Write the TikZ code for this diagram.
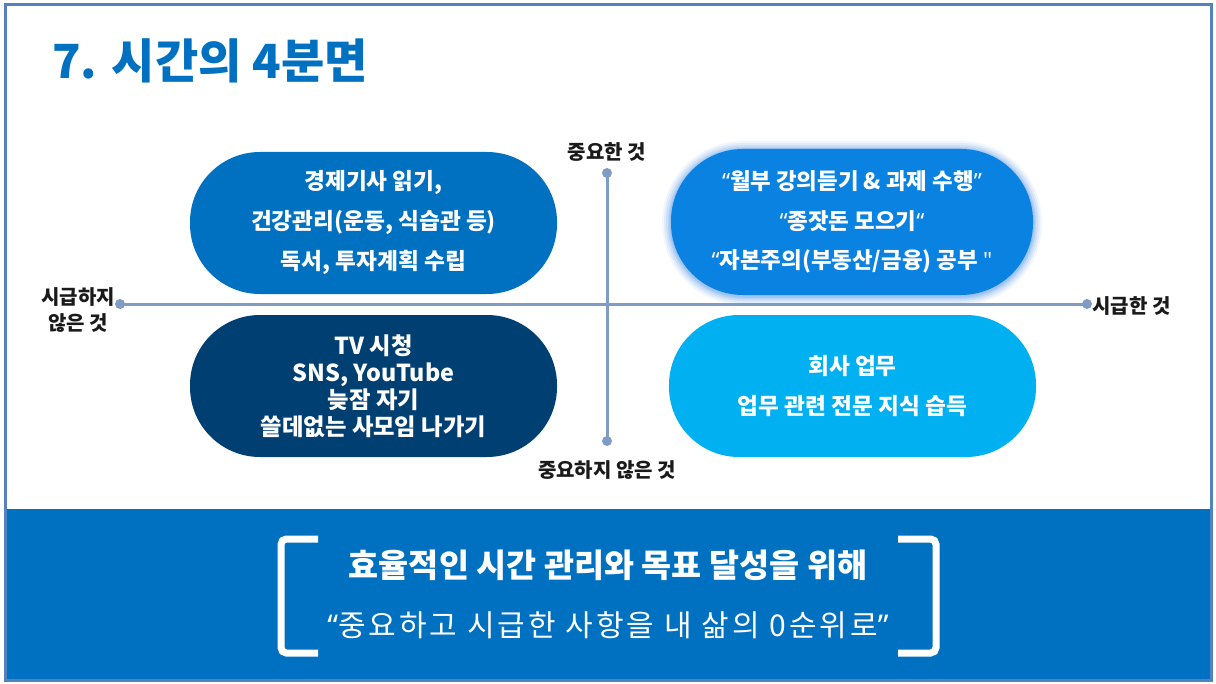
\documentclass[tikz,border=0pt]{standalone}
\usepackage{fontspec}
\setmainfont{Noto Sans CJK KR}
\newfontfamily\handfont[LetterSpace=10]{Noto Sans CJK KR}
\newfontfamily\quotefont{Noto Sans}
\newcommand\myqo{{\quotefont “}}
\newcommand\myqc{{\quotefont ”}}
\definecolor{mainblue}{RGB}{0,112,192}
\definecolor{framecol}{RGB}{84,130,190}
\definecolor{navy}{RGB}{0,63,114}
\definecolor{brightblue}{RGB}{10,130,226}
\definecolor{skyblue}{RGB}{0,176,240}
\definecolor{axiscol}{RGB}{127,156,196}
\definecolor{glowcol}{RGB}{130,178,238}
\definecolor{labelcol}{RGB}{26,26,26}
\begin{document}
\begin{tikzpicture}[x=0.75pt,y=-0.75pt,
  pill/.style={rectangle, rounded corners=52.5pt, minimum width=275.25pt, minimum height=106.5pt, inner sep=0pt, text=white, align=center, font=\bfseries\fontsize{17}{30}\selectfont},
  axisline/.style={draw=axiscol, line width=2.25pt},
  axisdot/.style={circle, fill=axiscol, inner sep=0pt, minimum size=7.5pt},
  axislabel/.style={text=labelcol, font=\bfseries\fontsize{15}{19.5}\selectfont, align=center, inner sep=0pt},
  bracketline/.style={draw=white, line width=5.25pt, rounded corners=4pt},
]
\useasboundingbox (0,0) rectangle (1216,684);
\fill[white] (0,0) rectangle (1216,684);
\fill[mainblue] (5,509) rectangle (1211,680);
\draw[framecol, line width=2.25pt] (5,5) rectangle (1211,680);

\node[anchor=base west, text=mainblue, font=\bfseries\fontsize{35.3}{40}\selectfont, inner sep=0pt] (title) at (52,79) {7. 시간의 4분면};

\foreach \w/\o in {18/0.10, 14/0.15, 10/0.22, 6/0.3, 3/0.4}
  \draw[glowcol, opacity=\o, line width=\w*0.75pt, rounded corners=54pt] (671,150) rectangle (1033,296);

\node[pill, fill=mainblue] (impnotu) at (373.5,223) {경제기사 읽기,\\건강관리(운동, 식습관 등)\\독서, 투자계획 수립};
\node[pill, fill=navy, font=\bfseries\fontsize{17.5}{20.25}\selectfont] (notimpnotu) at (373.5,386) {TV 시청\\SNS, YouTube\\늦잠 자기\\쓸데없는 사모임 나가기};
\node[pill, fill=brightblue, minimum width=271.5pt, minimum height=109.5pt, rounded corners=54pt, font=\bfseries\fontsize{16.8}{29.6}\selectfont] (impu) at (852,222) {\myqo 월부 강의듣기 \& 과제 수행\myqc\\\myqo 종잣돈 모으기\myqo\\\myqo 자본주의(부동산/금융) 공부 {\quotefont "}};
\node[pill, fill=skyblue] (notimpu) at (852.5,386) {회사 업무\\업무 관련 전문 지식 습득};

\coordinate (L) at (120,304);
\coordinate (R) at (1087,304);
\coordinate (T) at (607,173);
\coordinate (B) at (607,441);
\draw[axisline] (L) -- (R);
\draw[axisline] (T) -- (B);
\node[axisdot] (dotL) at (L) {};
\node[axisdot] (dotR) at (R) {};
\node[axisdot] (dotT) at (T) {};
\node[axisdot] (dotB) at (B) {};

\node[axislabel] (lblimp) at (607,152) {중요한 것};
\node[axislabel] (lblnotimp) at (607,470) {중요하지 않은 것};
\node[axislabel] (lblnotu) at (78,310) {시급하지\\않은 것};
\node[axislabel, anchor=west] (lblu) at (1092,306) {시급한 것};

\draw[bracketline] (318,539) -- (281,539) -- (281,653) -- (318,653);
\draw[bracketline] (898,539) -- (936,539) -- (936,653) -- (898,653);

\node[text=white, font=\bfseries\fontsize{24.5}{28}\selectfont, inner sep=0pt] (band1) at (608,565) {효율적인 시간 관리와 목표 달성을 위해};
\node[text=white, font=\handfont\fontsize{22.5}{26}\selectfont, inner sep=0pt] (band2) at (608,625) {\myqo 중요하고 시급한 사항을 내 삶의 0순위로\myqc};
\end{tikzpicture}
\end{document}
